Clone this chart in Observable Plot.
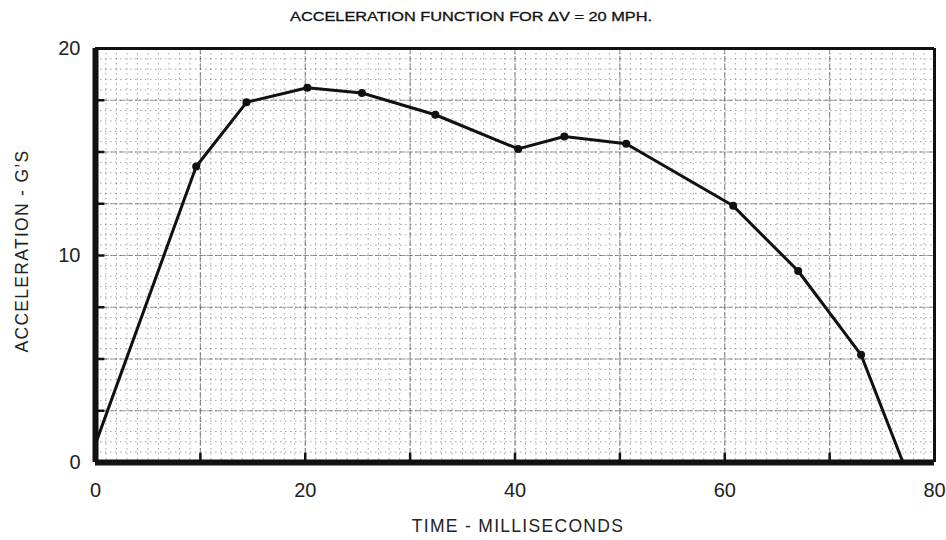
<!DOCTYPE html>
<html>
<head>
<meta charset="utf-8">
<script src="https://cdn.jsdelivr.net/npm/d3@7"></script>
<script src="https://cdn.jsdelivr.net/npm/@observablehq/plot@0.6"></script>
<style>
  html, body { margin: 0; padding: 0; background: #ffffff; }
  #chart { width: 946px; height: 540px; }
  svg { font-family: "Liberation Sans", Arial, Helvetica, sans-serif; }
</style>
</head>
<body>
<div id="chart"></div>
<script>
// ---- data ----
const titleText = "ACCELERATION FUNCTION FOR \u0394V = 20 MPH.";
const xLabel = "TIME - MILLISECONDS";
const yLabel = "ACCELERATION - G\u2019S";

const timeMs = [0, 9.6, 14.4, 20.2, 25.4, 32.4, 40.3, 44.7, 50.6, 60.8, 67.0, 73.0, 77.0];
const accelG = [0.9, 14.3, 17.4, 18.1, 17.85, 16.8, 15.15, 15.75, 15.4, 12.4, 9.25, 5.2, 0];

const xTicks = [0, 20, 40, 60, 80];
const yTicks = [0, 10, 20];

// graph-paper grid
const fineX = d3.range(1, 80, 1);
const fineY = d3.range(0.5, 20, 0.5);
const majorX = d3.range(10, 80, 10);
const majorY = d3.range(2.5, 20, 2.5);

const curve = timeMs.map((t, i) => ({t, g: accelG[i]}));
const markers = curve.slice(1, -1);

const chart = Plot.plot({
  width: 946,
  height: 540,
  marginLeft: 95,
  marginRight: 12,
  marginTop: 48,
  marginBottom: 78,
  style: {fontFamily: '"Liberation Sans", Arial, sans-serif', background: "#fff"},
  x: {domain: [0, 80], ticks: xTicks, label: null},
  y: {domain: [0, 20], ticks: yTicks, label: null},
  marks: [
    // fine paper grid
    Plot.ruleX(fineX, {x: d => d, stroke: "#666", strokeWidth: 1, strokeDasharray: "1.5,3.5", strokeOpacity: 0.6}),
    Plot.ruleY(fineY, {y: d => d, stroke: "#666", strokeWidth: 1, strokeDasharray: "1.5,3.5", strokeOpacity: 0.6}),
    // major paper grid
    Plot.ruleX(majorX, {x: d => d, stroke: "#555", strokeWidth: 1.2, strokeDasharray: "6,2", strokeOpacity: 0.6}),
    Plot.ruleY(majorY, {y: d => d, stroke: "#555", strokeWidth: 1.2, strokeDasharray: "6,2", strokeOpacity: 0.6}),
    // inward tick stubs
    Plot.ruleX(majorX, {x: d => d, y1: 0, y2: 0.45, stroke: "#111", strokeWidth: 2.5}),
    Plot.ruleY(majorY, {y: d => d, x1: 0, x2: 0.9, stroke: "#111", strokeWidth: 2.5}),
    // frame
    Plot.ruleY([20], {stroke: "#111", strokeWidth: 3}),
    Plot.ruleX([80], {stroke: "#111", strokeWidth: 3}),
    Plot.ruleX([0], {stroke: "#111", strokeWidth: 6}),
    Plot.ruleY([0], {stroke: "#111", strokeWidth: 6}),
    // data
    Plot.line(curve, {x: "t", y: "g", stroke: "#111", strokeWidth: 3, strokeLinejoin: "round"}),
    Plot.dot(markers, {x: "t", y: "g", r: 4, fill: "#111", stroke: "none"}),
    // axes
    Plot.axisX({ticks: xTicks, tickSize: 0, tickPadding: 20, fontSize: 20, fill: "#222", label: null}),
    Plot.axisY({ticks: yTicks, tickSize: 0, tickPadding: 15, fontSize: 20, fill: "#222", label: null})
  ]
});

document.getElementById("chart").appendChild(chart);

const svg = d3.select(chart);
svg.append("text")
  .attr("x", 471).attr("y", 21)
  .attr("text-anchor", "middle")
  .attr("font-size", 12.5)
  .attr("font-weight", "normal")
  .attr("fill", "#111")
  .attr("stroke", "#111")
  .attr("stroke-width", 0.3)
  .attr("textLength", 362)
  .attr("lengthAdjust", "spacingAndGlyphs")
  .text(titleText);

svg.append("text")
  .attr("x", 518).attr("y", 532)
  .attr("text-anchor", "middle")
  .attr("font-size", 17.5)
  .attr("letter-spacing", "1.3px")
  .attr("fill", "#222")
  .text(xLabel);

svg.append("text")
  .attr("transform", "translate(28,251) rotate(-90)")
  .attr("text-anchor", "middle")
  .attr("font-size", 17.5)
  .attr("letter-spacing", "1.3px")
  .attr("fill", "#222")
  .text(yLabel);
</script>
</body>
</html>
